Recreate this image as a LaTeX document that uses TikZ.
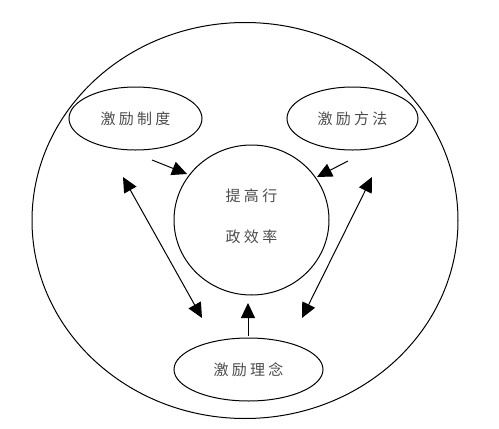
\documentclass[tikz,border=0pt]{standalone}
\usepackage{fontspec}
\newfontfamily\cjk[LetterSpace=22]{Noto Sans CJK SC}
\usetikzlibrary{shapes.geometric,arrows.meta}
\begin{document}
\begin{tikzpicture}[x=1pt,y=-1pt,
  oval/.style={draw,ellipse,line width=1pt,inner sep=0pt},
  lbl/.style={font=\cjk\fontsize{15}{17}\selectfont,text=black!70},
  arr/.style={line width=1pt,-{Triangle[length=15pt,width=14pt]}},
  darr/.style={line width=1pt,{Triangle[length=15pt,width=14pt]}-{Triangle[length=15pt,width=14pt]}}]
\useasboundingbox (0,0) rectangle (499,429);
\node[oval,minimum width=426pt,minimum height=396pt] (outer) at (245,220.5) {};
\node[oval,minimum width=133pt,minimum height=63pt] (zd) at (135.5,118.5) {};
\node[lbl] (zdt) at (135.5,118.5) {激励制度};
\node[oval,minimum width=131pt,minimum height=63pt] (ff) at (352.5,118.5) {};
\node[lbl] (fft) at (352.5,118.5) {激励方法};
\node[oval,minimum width=155pt,minimum height=150pt] (xl) at (251.5,220) {};
\node[lbl] (xl1) at (251.5,196) {提高行};
\node[lbl] (xl2) at (251.5,237) {政效率};
\node[oval,minimum width=149pt,minimum height=63pt] (ln) at (248.5,369.5) {};
\node[lbl] (lnt) at (248.5,369.5) {激励理念};
\coordinate (a1s) at (152,160);
\coordinate (a1e) at (187,174);
\coordinate (a2s) at (348,161);
\coordinate (a2e) at (317,177);
\coordinate (a3t) at (123,177);
\coordinate (a3b) at (202,318);
\coordinate (a4t) at (372,177);
\coordinate (a4b) at (302,318);
\coordinate (a5s) at (248,336);
\coordinate (a5e) at (248,303);
\draw[arr] (a1s) -- (a1e);
\draw[arr] (a2s) -- (a2e);
\draw[darr] (a3t) -- (a3b);
\draw[darr] (a4t) -- (a4b);
\draw[arr] (a5s) -- (a5e);
\end{tikzpicture}
\end{document}
